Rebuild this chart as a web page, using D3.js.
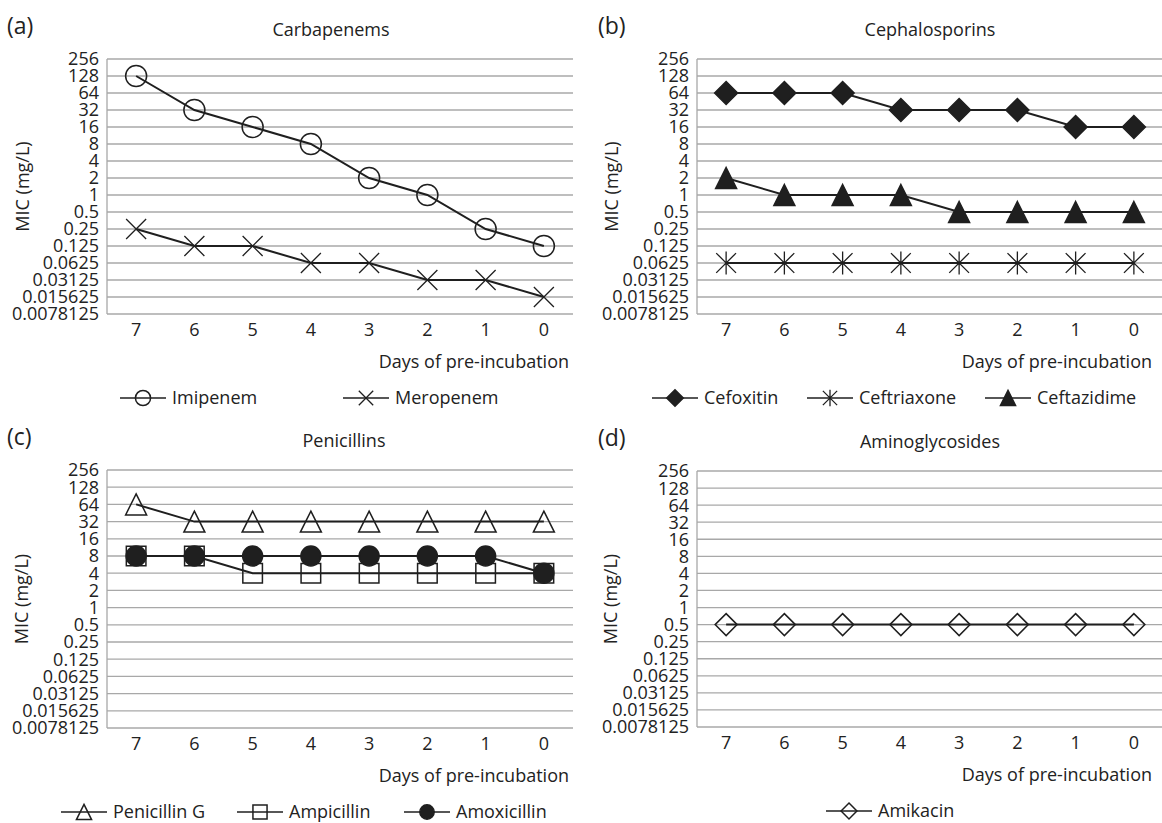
<!DOCTYPE html>
<html>
<head>
<meta charset="utf-8">
<script src="https://cdn.jsdelivr.net/npm/d3@7"></script>
<style>
  body { margin: 0; background: #fff; }
  text { font-family: "Open Sans", sans-serif; fill: #222; }
</style>
</head>
<body>
<svg id="chart" width="1162" height="823"></svg>
<script>
// Datos: dias de pre-incubacion y CIM (mg/L)
const days = [7, 6, 5, 4, 3, 2, 1, 0];
const micTicks = [256, 128, 64, 32, 16, 8, 4, 2, 1, 0.5, 0.25, 0.125, 0.0625, 0.03125, 0.015625, 0.0078125];
const micTickLabels = ["256", "128", "64", "32", "16", "8", "4", "2", "1", "0.5", "0.25", "0.125", "0.0625", "0.03125", "0.015625", "0.0078125"];

const imipenem    = [128, 32, 16, 8, 2, 1, 0.25, 0.125];
const meropenem   = [0.25, 0.125, 0.125, 0.0625, 0.0625, 0.03125, 0.03125, 0.015625];
const cefoxitin   = [64, 64, 64, 32, 32, 32, 16, 16];
const ceftriaxone = [0.0625, 0.0625, 0.0625, 0.0625, 0.0625, 0.0625, 0.0625, 0.0625];
const ceftazidime = [2, 1, 1, 1, 0.5, 0.5, 0.5, 0.5];
const penicillinG = [64, 32, 32, 32, 32, 32, 32, 32];
const ampicillin  = [8, 8, 4, 4, 4, 4, 4, 4];
const amoxicillin = [8, 8, 8, 8, 8, 8, 8, 4];
const amikacin    = [0.5, 0.5, 0.5, 0.5, 0.5, 0.5, 0.5, 0.5];

const svg = d3.select("#chart");
const lineColor = "#1f1f1f";
const gridColor = "#a8a8a8";

// Forma de cada marcador, centrada en 0,0
function markerPath(type, s) {
  switch (type) {
    case "circle":
    case "circleFilled":
      return `M${-s},0A${s},${s} 0 1,0 ${s},0A${s},${s} 0 1,0 ${-s},0Z`;
    case "x":
      return `M${-s},${-s}L${s},${s}M${-s},${s}L${s},${-s}`;
    case "star":
      return `M${-s * 0.9},${-s * 0.9}L${s * 0.9},${s * 0.9}M${-s * 0.9},${s * 0.9}L${s * 0.9},${-s * 0.9}M0,${-s * 1.05}L0,${s * 1.05}`;
    case "diamond":
    case "diamondFilled":
      return `M0,${-s}L${s},0L0,${s}L${-s},0Z`;
    case "triangle":
    case "triangleFilled":
      return `M0,${-s}L${s},${s}L${-s},${s}Z`;
    case "square":
      return `M${-s},${-s}H${s}V${s}H${-s}Z`;
  }
}

function markerStyle(sel, type) {
  const filled = type.endsWith("Filled");
  sel.attr("fill", filled ? lineColor : "none")
     .attr("stroke", lineColor)
     .attr("stroke-width", type === "x" || type === "star" ? 1.3 : 1.5);
}

const markerSize = { circle: 10.5, x: 10, star: 11, diamondFilled: 11.5, triangleFilled: 10.5,
                     triangle: 10.5, square: 9.8, circleFilled: 10, diamond: 11 };

const panels = [
  { tag: "(a)", title: "Carbapenems", left: 107, right: 573, top: 59, bottom: 314, titleX: 331,
    tagX: 7, yLabelX: 23, daysX: 569,
    series: [{ name: "Imipenem", values: imipenem, marker: "circle" },
             { name: "Meropenem", values: meropenem, marker: "x" }],
    legendX: [143, 366] },
  { tag: "(b)", title: "Cephalosporins", left: 697, right: 1163, top: 59, bottom: 314, titleX: 930,
    tagX: 598, yLabelX: 612, daysX: 1152,
    series: [{ name: "Cefoxitin", values: cefoxitin, marker: "diamondFilled" },
             { name: "Ceftriaxone", values: ceftriaxone, marker: "star" },
             { name: "Ceftazidime", values: ceftazidime, marker: "triangleFilled" }],
    legendX: [675, 830, 1008] },
  { tag: "(c)", title: "Penicillins", left: 107, right: 573, top: 470, bottom: 728, titleX: 344,
    tagX: 7, yLabelX: 22, daysX: 569,
    series: [{ name: "Penicillin G", values: penicillinG, marker: "triangle" },
             { name: "Ampicillin", values: ampicillin, marker: "square" },
             { name: "Amoxicillin", values: amoxicillin, marker: "circleFilled" }],
    legendX: [84, 260, 427] },
  { tag: "(d)", title: "Aminoglycosides", left: 697, right: 1163, top: 471, bottom: 727, titleX: 930,
    tagX: 598, yLabelX: 611, daysX: 1152,
    series: [{ name: "Amikacin", values: amikacin, marker: "diamond" }],
    legendX: [849] }
];

panels.forEach(p => {
  const g = svg.append("g");

  const x = d3.scalePoint().domain(days).range([p.left, p.right]).padding(0.5);
  const y = d3.scaleLog().base(2).domain([0.0078125, 256]).range([p.bottom, p.top]);

  // Lineas de cuadricula horizontales
  g.append("g").selectAll("line")
   .data(micTicks)
   .enter().append("line")
   .attr("x1", p.left).attr("x2", p.right)
   .attr("y1", d => y(d)).attr("y2", d => y(d))
   .attr("stroke", gridColor).attr("stroke-width", 1.3);

  // Eje vertical
  g.append("line")
   .attr("x1", p.left).attr("x2", p.left)
   .attr("y1", y(256)).attr("y2", y(0.0078125))
   .attr("stroke", gridColor).attr("stroke-width", 1.3);

  // Etiquetas del eje Y
  g.append("g").selectAll("text")
   .data(micTicks)
   .enter().append("text")
   .attr("x", p.left - 8)
   .attr("y", d => y(d))
   .attr("dy", "0.36em")
   .attr("text-anchor", "end")
   .attr("font-size", 18)
   .text((d, i) => micTickLabels[i]);

  // Etiquetas del eje X
  g.append("g").selectAll("text")
   .data(days)
   .enter().append("text")
   .attr("x", d => x(d))
   .attr("y", p.bottom + 16)
   .attr("dy", "0.36em")
   .attr("text-anchor", "middle")
   .attr("font-size", 18)
   .text(d => d);

  g.append("text")
   .attr("x", p.daysX).attr("y", p.bottom + 48).attr("dy", "0.36em")
   .attr("text-anchor", "end").attr("font-size", 18)
   .text("Days of pre-incubation");

  const midY = (p.top + p.bottom) / 2;
  g.append("text")
   .attr("transform", `translate(${p.yLabelX},${midY}) rotate(-90)`)
   .attr("dy", "0.36em")
   .attr("text-anchor", "middle").attr("font-size", 18)
   .text("MIC (mg/L)");

  g.append("text")
   .attr("x", p.titleX).attr("y", p.top - 29).attr("dy", "0.36em")
   .attr("text-anchor", "middle").attr("font-size", 18)
   .text(p.title);

  g.append("text")
   .attr("x", p.tagX).attr("y", p.top - 33).attr("dy", "0.36em")
   .attr("font-size", 23)
   .text(p.tag);

  // Series: linea y marcadores
  const line = d3.line().x((d, i) => x(days[i])).y(d => y(d));
  p.series.forEach(s => {
    g.append("path")
     .attr("d", line(s.values))
     .attr("fill", "none")
     .attr("stroke", lineColor)
     .attr("stroke-width", 2);

    g.append("g").selectAll("path")
     .data(s.values)
     .enter().append("path")
     .attr("transform", (d, i) => `translate(${x(days[i])},${y(d)})`)
     .attr("d", markerPath(s.marker, markerSize[s.marker]))
     .call(markerStyle, s.marker);
  });

  // Leyenda
  const legendY = p.bottom + 84;
  p.series.forEach((s, i) => {
    const cx = p.legendX[i];
    const lg = g.append("g").attr("transform", `translate(${cx},${legendY})`);
    lg.append("line").attr("x1", -23).attr("x2", 23)
      .attr("stroke", lineColor).attr("stroke-width", 1.6);
    lg.append("path")
      .attr("d", markerPath(s.marker, markerSize[s.marker] * 0.72))
      .call(markerStyle, s.marker);
    lg.append("text")
      .attr("x", 29).attr("dy", "0.36em")
      .attr("font-size", 18)
      .text(s.name);
  });
});
</script>
</body>
</html>
